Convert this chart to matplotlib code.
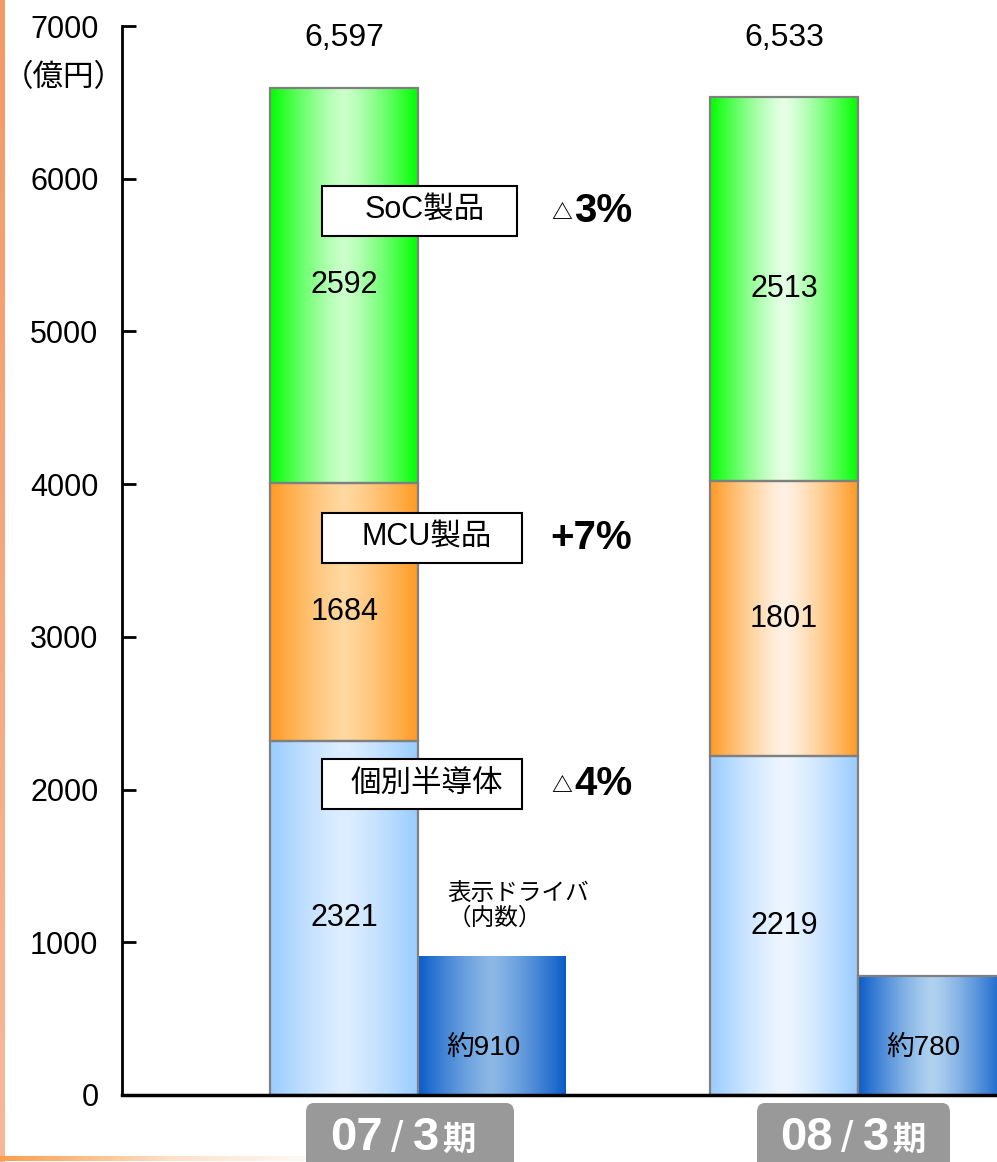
import numpy as np
import matplotlib
matplotlib.use("Agg")
import matplotlib.pyplot as plt
import matplotlib.colors as mcolors
from matplotlib.patches import FancyBboxPatch, Rectangle

plt.rcParams['font.family'] = ['Liberation Sans', 'Noto Sans CJK JP']

# data (億円)
periods = ['07/3期', '08/3期']
period_big = [('07', '3'), ('08', '3')]
discrete = [2321, 2219]      # 個別半導体
mcu = [1684, 1801]           # MCU製品
soc = [2592, 2513]           # SoC製品
totals = ['6,597', '6,533']
driver = [910, 780]          # 表示ドライバ（内数）
driver_labels = ['約910', '約780']
segments = ['個別半導体', 'MCU製品', 'SoC製品']
changes = [('△', '4%'), ('+', '7%'), ('△', '3%')]
yticks = [0, 1000, 2000, 3000, 4000, 5000, 6000, 7000]

W, H = 997, 1162
fig = plt.figure(figsize=(W / 100, H / 100), dpi=100)
ax = fig.add_axes([122 / W, 1 - 1095 / H, 1 - 122 / W, (1095 - 26) / H])


def grad(edge, mid, n=200):
    t = np.abs(np.linspace(-1, 1, n)) ** 1.3
    e = np.array(mcolors.to_rgb(edge))
    m = np.array(mcolors.to_rgb(mid))
    return (m + (e - m) * t[:, None])[None, :, :]


seg_colors = [
    [('#99ccff', '#ddeeff'), ('#99ccff', '#eef6ff')],
    [('#ff9a22', '#ffd8a0'), ('#ff9a22', '#fff2e4')],
    [('#00ff00', '#ccffcc'), ('#00ff00', '#e6ffe6')],
]
drv_colors = [('#0a5cc8', '#8cb8e6'), ('#0a5cc8', '#b0d2f0')]
drv_edge = ['none', '#808080']

w = 0.336
x = np.arange(len(periods))
for i in x:
    bottom = 0
    for k, vals in enumerate([discrete, mcu, soc]):
        v = vals[i]
        ax.imshow(grad(*seg_colors[k][i]), extent=[i - w / 2, i + w / 2, bottom, bottom + v],
                  aspect='auto', interpolation='bilinear', zorder=1)
        ax.bar(i, v, w, bottom=bottom, fill=False, edgecolor='#808080', lw=1.6, zorder=2)
        ax.text(i, bottom + v / 2, str(v), ha='center', va='center', fontsize=22, zorder=4)
        bottom += v
    ax.text(i, 6920, totals[i], ha='center', va='center', fontsize=23)
    xd = i + w
    ax.imshow(grad(*drv_colors[i]), extent=[xd - w / 2, xd + w / 2, 0, driver[i]],
              aspect='auto', interpolation='bilinear', zorder=1)
    ax.bar(xd, driver[i], w, fill=False, edgecolor=drv_edge[i], lw=1.6, zorder=2)
    ax.text(xd - 0.02, 310, driver_labels[i], ha='center', va='center', fontsize=20, zorder=4)

ax.text(0.235, 1080, '表示ドライバ\n（内数）', ha='left', va='bottom', fontsize=17,
        linespacing=1.1)

ax.set_xlim(-0.505, 1.484)
ax.set_ylim(0, 7000)
ax.set_yticks(yticks)
ax.set_yticklabels([str(t) for t in yticks], fontsize=22)
ax.set_xticks([])
ax.tick_params(axis='y', direction='in', length=10, width=2, pad=17)
for s in ['top', 'right']:
    ax.spines[s].set_visible(False)
ax.spines['left'].set_linewidth(2)
ax.spines['bottom'].set_linewidth(2.5)
ax.spines['left'].set_zorder(5)
ax.spines['bottom'].set_zorder(5)

fig.text(64 / W, 1 - 78 / H, '（億円）', ha='center', va='center', fontsize=22)

# segment boxes and growth rates
box_y = [784, 538, 211]
box_x = [(322, 522), (322, 522), (322, 517)]
for k in range(3):
    x0, x1 = box_x[k]
    y = box_y[k]
    fig.patches.append(Rectangle((x0 / W, 1 - (y + 25) / H), (x1 - x0) / W, 50 / H,
                                 transform=fig.transFigure, fc='white', ec='black', lw=1.5, zorder=6))
    fig.text(((x0 + x1) / 2 + 5) / W, 1 - y / H, segments[k], ha='center', va='center',
             fontsize=22, zorder=7)
    sym, pct = changes[k]
    if sym == '△':
        fig.text(551 / W, 1 - (y + 2) / H, sym, ha='left', va='center', fontsize=15,
                 fontweight='bold', zorder=7)
        fig.text(574 / W, 1 - y / H, pct, ha='left', va='center', fontsize=29,
                 fontweight='bold', zorder=7)
    else:
        fig.text(550 / W, 1 - y / H, sym + pct, ha='left', va='center', fontsize=29,
                 fontweight='bold', zorder=7)

# period labels
for i, (x0, x1) in enumerate([(306, 514), (757, 950)]):
    fig.patches.append(FancyBboxPatch((x0 / W, 1 - 1175 / H), (x1 - x0) / W, 72 / H,
                                      boxstyle='round,pad=0,rounding_size=0.008',
                                      transform=fig.transFigure, fc='#999999', ec='none'))
    off = 0 if i == 0 else 450
    big, small = period_big[i]
    base = 1 - 1150 / H
    fig.text((330 + off) / W, base, big, ha='left', va='baseline', fontsize=34,
             fontweight='bold', color='white')
    fig.text((391 + off) / W, 1 - 1152 / H, '/', ha='left', va='baseline', fontsize=32,
             fontweight='light', color='white')
    fig.text((413 + off) / W, base, small, ha='left', va='baseline', fontsize=34,
             fontweight='bold', color='white')
    fig.text((442 + off) / W, base, '期', ha='left', va='baseline', fontsize=24,
             fontweight='bold', color='white')

# decorative orange edges
deco = fig.add_axes([0, 0, 4 / W, 1])
deco.imshow(np.linspace(0, 1, 100)[:, None], cmap=mcolors.LinearSegmentedColormap.from_list(
    'o', ['#f39a66', '#f7b898']), aspect='auto')
deco.axis('off')
deco2 = fig.add_axes([0, 1 - 1161 / H, 340 / W, 5 / H])
deco2.imshow(np.linspace(0, 1, 100)[None, :], cmap=mcolors.LinearSegmentedColormap.from_list(
    'o2', ['#fb9e4c', '#fde0c8', '#ffffff']), aspect='auto')
deco2.axis('off')

fig.savefig('out.png', dpi=100)
